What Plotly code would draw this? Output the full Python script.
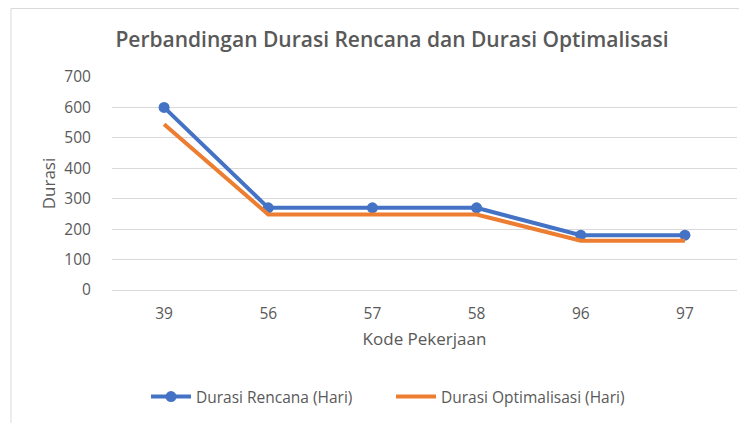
import plotly.graph_objects as go

kode_pekerjaan = ["39", "56", "57", "58", "96", "97"]
durasi_rencana = [600, 270, 270, 270, 180, 180]
durasi_optimalisasi = [545, 248, 248, 248, 162, 162]
y_ticks = [0, 100, 200, 300, 400, 500, 600, 700]

FONT = "Open Sans"
GRAY = "#595959"

# page body adds an 8px offset; positions below are compensated
OFF = 8
PL, PR, PT, PB = 112 - OFF, 737 - OFF, 77 - OFF, 290 - OFF  # plot area in figure px
W, H = 747, 423
PW, PH = PR - PL, PB - PT

fig = go.Figure()
fig.add_trace(go.Scatter(
    x=kode_pekerjaan, y=durasi_rencana, name="Durasi Rencana (Hari)",
    mode="lines+markers",
    line=dict(color="#4472C4", width=4),
    marker=dict(color="#4472C4", size=11),
))
fig.add_trace(go.Scatter(
    x=kode_pekerjaan, y=durasi_optimalisasi, name="Durasi Optimalisasi (Hari)",
    mode="lines",
    line=dict(color="#ED7D31", width=4),
))

fig.update_layout(
    width=W, height=H,
    margin=dict(l=PL, r=W - PR, t=PT, b=H - PB),
    paper_bgcolor="white", plot_bgcolor="white",
    font=dict(family=FONT, color=GRAY, size=15.5),
    title=dict(
        text="Perbandingan Durasi Rencana dan Durasi Optimalisasi",
        font=dict(family=FONT, size=21, color=GRAY, weight=600),
        x=(392 - OFF - PL) / PW, xref="paper", xanchor="center",
        y=1 - (40 - OFF) / H, yref="container", yanchor="middle",
    ),
    showlegend=True,
    legend=dict(
        orientation="h", x=(391 - OFF - PL) / PW, xanchor="center",
        y=(PB - (397 - OFF)) / PH, yanchor="middle",
        font=dict(family=FONT, size=15.5, color=GRAY),
        itemwidth=40, entrywidth=190, entrywidthmode="pixels",
        bgcolor="rgba(0,0,0,0)",
    ),
    xaxis=dict(
        type="category", range=[-0.5, 5.5],
        title=dict(text="Kode Pekerjaan", font=dict(size=17, color=GRAY), standoff=10),
        showgrid=False, showline=False, zeroline=False,
        ticks="outside", ticklen=9, tickcolor="rgba(0,0,0,0)",
        tickfont=dict(size=15.5, color=GRAY),
    ),
    yaxis=dict(
        range=[0, 700], tickvals=y_ticks,
        title=dict(text="Durasi", font=dict(size=17, color=GRAY), standoff=4),
        showgrid=True, gridcolor="#d9d9d9", gridwidth=1,
        zeroline=True, zerolinecolor="#d9d9d9", zerolinewidth=1,
        showline=False,
        ticks="outside", ticklen=17, tickcolor="rgba(0,0,0,0)",
        tickfont=dict(size=15.5, color=GRAY),
    ),
    shapes=[dict(
        type="rect", xref="paper", yref="paper",
        x0=(11 - OFF - PL) / PW, x1=(780 - OFF - PL) / PW,
        y0=(PB - 440) / PH, y1=(PB - 0.5) / PH,
        line=dict(color="#d9d9d9", width=1), fillcolor="rgba(0,0,0,0)",
        layer="below",
    )],
)

fig.write_html("out.html")
